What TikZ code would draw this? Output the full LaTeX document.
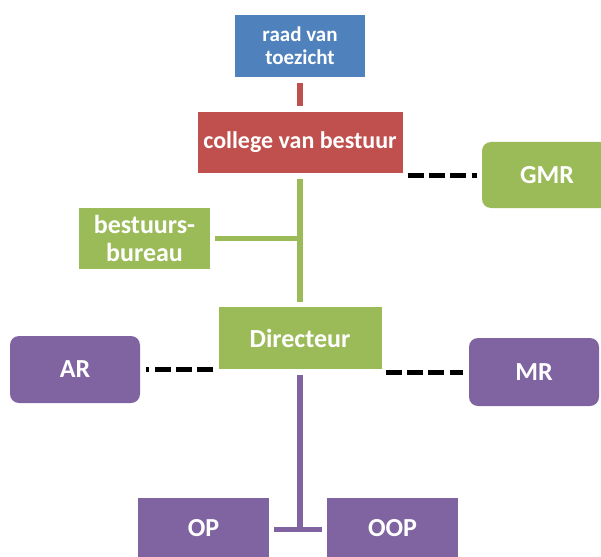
\documentclass[tikz,border=0pt]{standalone}
\usepackage{fontspec}
\setmainfont{Carlito}
\definecolor{cblue}{HTML}{4F81BD}
\definecolor{cred}{HTML}{C0504D}
\definecolor{cgreen}{HTML}{9BBB59}
\definecolor{cpurple}{HTML}{8064A2}
\begin{document}
\begin{tikzpicture}[x=1pt,y=-1pt,
  box/.style={rectangle, inner sep=0pt, text=white, align=center,
    font=\bfseries\fontsize{26}{28}\selectfont, minimum width=130pt, minimum height=62pt},
  rbox/.style={box, rounded corners=9pt},
  link/.style={line width=5.5pt},
  dashlink/.style={line width=5pt, black, dash pattern=on 16pt off 5.3pt}]
\useasboundingbox (0,0) rectangle (601,556);
\node[box, fill=cblue, font=\bfseries\fontsize{21}{23}\selectfont] (rvt) at (300,46) {raad van\\toezicht};
\node[box, fill=cred, minimum width=205pt, minimum height=61pt, font=\bfseries\fontsize{24}{26}\selectfont] (cvb) at (300,142.5) {college van bestuur};
\node[box, fill=cgreen, minimum width=131pt, minimum height=61pt] (bb) at (144.5,238.5) {bestuurs-\\bureau};
\node[rbox, fill=cgreen, minimum height=66pt] (gmr) at (547,175) {GMR};
\node[box, fill=cgreen, minimum width=163pt] (dir) at (300,338) {Directeur};
\node[rbox, fill=cpurple, minimum height=67pt] (ar) at (75,369.5) {AR};
\node[rbox, fill=cpurple, minimum height=68pt] (mr) at (534,372) {MR};
\node[box, fill=cpurple, minimum width=131pt, minimum height=60pt] (op) at (203.5,528) {OP};
\node[box, fill=cpurple, minimum width=131pt, minimum height=60pt] (oop) at (392.5,528) {OOP};
\coordinate (t) at (300,529.5);
% connectors
\draw[link, cred, shorten <=6pt, shorten >=6pt] (rvt.south) -- (cvb.north);
\draw[link, cgreen, shorten <=6pt, shorten >=5pt] (cvb.south) -- (dir.north);
\draw[link, cgreen, shorten <=5pt] (bb.east) -- (bb.east -| cvb.south);
\draw[dashlink, shorten <=5pt, shorten >=5pt] (cvb.east |- gmr.west) -- (gmr.west);
\draw[dashlink, shorten <=5pt, shorten >=6pt] (dir.west |- ar.east) -- (ar.east);
\draw[dashlink, shorten <=4pt, shorten >=6pt] (dir.east |- mr.west) -- (mr.west);
\draw[link, cpurple, shorten <=6pt] (dir.south) -- (t);
\draw[link, cpurple, shorten <=5pt, shorten >=5pt] (op.east |- t) -- (oop.west |- t);
\end{tikzpicture}
\end{document}
